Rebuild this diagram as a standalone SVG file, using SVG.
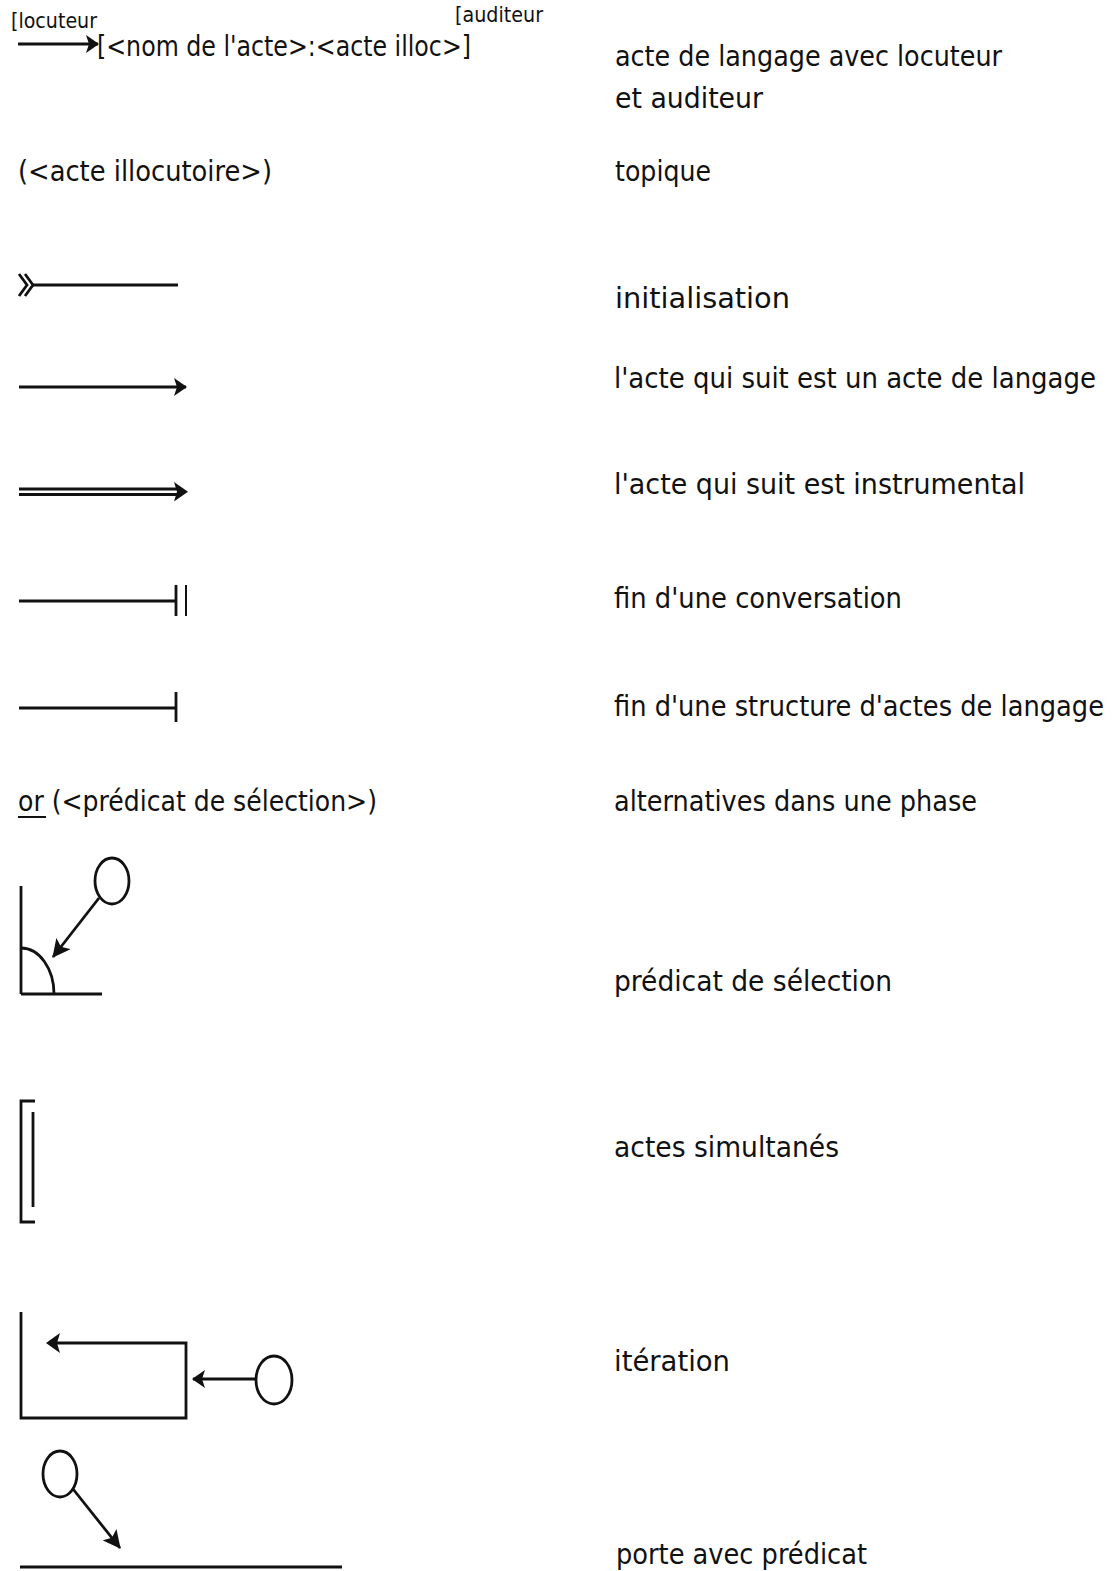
<svg xmlns="http://www.w3.org/2000/svg" width="1119" height="1571" viewBox="0 0 1119 1571">
<style>
text{font-family:"DejaVu Sans Condensed","Liberation Sans Narrow","Liberation Sans",sans-serif;fill:#111;}
.t{font-size:29px;}
.s{font-size:21px;}
.ln{stroke:#111;stroke-width:2.8;fill:none;}
.thin{stroke:#111;stroke-width:2;fill:none;}
.ah{fill:#111;stroke:none;}
</style>
<defs>
<marker id="arr" markerWidth="13" markerHeight="18" refX="12" refY="9" orient="auto" markerUnits="userSpaceOnUse" viewBox="0 0 13 18">
<path d="M0,0 L13,9 L0,18 L3,9 Z" class="ah"/>
</marker>
<marker id="arrB" markerWidth="18" markerHeight="18" refX="17" refY="9" orient="auto" markerUnits="userSpaceOnUse" viewBox="0 0 18 18">
<path d="M0,0 L18,9 L0,18 L4,9 Z" class="ah"/>
</marker>
</defs>

<g id="row-acte">
<text class="s" x="11" y="28" textLength="86" lengthAdjust="spacingAndGlyphs">[locuteur</text>
<text class="s" x="455" y="22" textLength="88" lengthAdjust="spacingAndGlyphs">[auditeur</text>
<line class="ln" x1="18" y1="44" x2="98" y2="44" marker-end="url(#arr)"/>
<text class="t" x="97" y="56" textLength="374" lengthAdjust="spacingAndGlyphs">[&lt;nom de l'acte&gt;:&lt;acte illoc&gt;]</text>
<text class="t" x="615" y="66" textLength="387" lengthAdjust="spacingAndGlyphs">acte de langage avec locuteur</text>
<text class="t" x="615" y="108" textLength="148" lengthAdjust="spacingAndGlyphs">et auditeur</text>
</g>

<g id="row-topique">
<text class="t" x="18" y="181" textLength="254" lengthAdjust="spacingAndGlyphs">(&lt;acte illocutoire&gt;)</text>
<text class="t" x="615" y="181" textLength="96" lengthAdjust="spacingAndGlyphs">topique</text>
</g>

<g id="row-initialisation">
<polyline class="ln" points="19,274 27,285 19,296"/>
<polyline class="ln" points="25,274 33,285 25,296"/>
<line class="ln" x1="33" y1="285" x2="178" y2="285"/>
<text class="t" x="615" y="308" textLength="175" lengthAdjust="spacingAndGlyphs">initialisation</text>
</g>

<g id="row-langage">
<line class="ln" x1="19" y1="387" x2="186" y2="387" marker-end="url(#arr)"/>
<text class="t" x="614" y="388" textLength="482" lengthAdjust="spacingAndGlyphs">l'acte qui suit est un acte de langage</text>
</g>

<g id="row-instrumental">
<line class="ln" x1="19" y1="489" x2="178" y2="489"/>
<line class="ln" x1="19" y1="494.5" x2="178" y2="494.5"/>
<path d="M174,482 L188,491.7 L174,501.5 L177,491.7 Z" class="ah"/>
<text class="t" x="614" y="494" textLength="411" lengthAdjust="spacingAndGlyphs">l'acte qui suit est instrumental</text>
</g>

<g id="row-fin-conversation">
<line class="ln" x1="19" y1="601" x2="176" y2="601"/>
<line class="ln" x1="176" y1="585" x2="176" y2="616"/>
<line class="thin" x1="186" y1="585" x2="186" y2="616"/>
<text class="t" x="614" y="608" textLength="288" lengthAdjust="spacingAndGlyphs">fin d'une conversation</text>
</g>

<g id="row-fin-structure">
<line class="ln" x1="19" y1="708" x2="176" y2="708"/>
<line class="ln" x1="176" y1="692" x2="176" y2="722"/>
<text class="t" x="614" y="716" textLength="490" lengthAdjust="spacingAndGlyphs">fin d'une structure d'actes de langage</text>
</g>

<g id="row-alternatives">
<text class="t" x="18" y="811" textLength="359" lengthAdjust="spacingAndGlyphs">or (&lt;prédicat de sélection&gt;)</text>
<line class="thin" x1="18" y1="817" x2="46" y2="817"/>
<text class="t" x="614" y="811" textLength="363" lengthAdjust="spacingAndGlyphs">alternatives dans une phase</text>
</g>

<g id="row-predicat">
<line class="ln" x1="21" y1="886" x2="21" y2="994"/>
<line class="ln" x1="21" y1="994" x2="102" y2="994"/>
<path class="ln" d="M21,948 A33,46 0 0 1 54,994"/>
<ellipse class="ln" cx="112" cy="881" rx="17" ry="23"/>
<line class="ln" x1="99" y1="898" x2="53" y2="957" marker-end="url(#arrB)"/>
<text class="t" x="614" y="991" textLength="278" lengthAdjust="spacingAndGlyphs">prédicat de sélection</text>
</g>

<g id="row-simultanes">
<polyline class="ln" points="35,1101 21,1101 21,1222 35,1222"/>
<line class="ln" x1="33" y1="1112" x2="33" y2="1207"/>
<text class="t" x="614" y="1157" textLength="225" lengthAdjust="spacingAndGlyphs">actes simultanés</text>
</g>

<g id="row-iteration">
<polyline class="ln" points="21,1312 21,1418 186,1418 186,1343 56,1343"/>
<path d="M46,1343 L60,1333 L57,1343 L60,1353 Z" class="ah"/>
<ellipse class="ln" cx="274" cy="1380" rx="18" ry="24"/>
<line class="ln" x1="256" y1="1379" x2="193" y2="1379" marker-end="url(#arr)"/>
<text class="t" x="614" y="1371" textLength="116" lengthAdjust="spacingAndGlyphs">itération</text>
</g>

<g id="row-porte">
<ellipse class="ln" cx="60" cy="1474" rx="17" ry="23"/>
<line class="ln" x1="73" y1="1489" x2="120" y2="1548" marker-end="url(#arrB)"/>
<line class="ln" x1="20" y1="1567" x2="342" y2="1567"/>
<text class="t" x="616" y="1564" textLength="251" lengthAdjust="spacingAndGlyphs">porte avec prédicat</text>
</g>
</svg>
